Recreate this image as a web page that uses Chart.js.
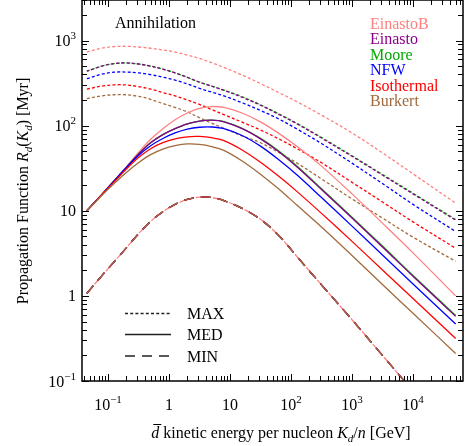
<!DOCTYPE html>
<html><head><meta charset="utf-8">
<script src="https://cdn.jsdelivr.net/npm/chart.js@4/dist/chart.umd.min.js"></script>
<style>html,body{margin:0;padding:0;background:#fff;}canvas{display:block;}</style>
</head><body>
<canvas id="c" width="475" height="446"></canvas>
<script>
// ---- data ----
const energies = [0.045, 0.079, 0.126, 0.2, 0.316, 0.5, 0.794, 1.26, 2, 3.16, 5, 7.94, 15.8, 31.6, 63.1, 126, 316, 1000, 3160, 10000, 50000];

const profiles = ['EinastoB', 'Einasto', 'Moore', 'NFW', 'Isothermal', 'Burkert'];
const profileColors = ['#ff8080', '#8b008b', '#00aa00', '#0000ff', '#ff0000', '#a26a3c'];

const maxEinastoB   = [736, 813, 851, 857, 841, 813, 776, 733, 676, 617, 550, 484, 394, 313, 245, 191, 133, 82.2, 47.9, 27.2, 12.3];
const maxEinasto    = [437, 501, 537, 546, 531, 501, 462, 417, 370, 325, 292, 260, 216, 174, 136, 105, 71.6, 43.7, 26.3, 15.8, 7.76];
const maxMoore      = [437, 501, 537, 546, 531, 501, 462, 417, 370, 325, 292, 262, 219, 176, 138, 106, 72.8, 44.4, 26.7, 16.1, 7.9];
const maxNFW        = [357, 403, 425, 427, 417, 398, 372, 343, 309, 275, 248, 224, 186, 151, 120, 91.2, 61.7, 36.3, 20.9, 11.9, 5.71];
const maxIsothermal = [269, 292, 302, 301, 288, 269, 245, 224, 200, 178, 155, 135, 110, 89.1, 70.0, 53.7, 36.7, 21.6, 12.7, 7.41, 3.63];
const maxBurkert    = [208, 224, 231, 231, 221, 204, 182, 164, 145, 124, 107, 93.3, 75.9, 63.1, 48.4, 36.3, 23.7, 13.8, 8.22, 4.90, 2.55];

const medEinastoB   = [10, 15.5, 22.4, 32.7, 48.4, 69.2, 92.3, 117.5, 141, 160, 168, 164, 141, 111, 81.3, 56.9, 33.5, 15.8, 7.16, 3.2, 1.0];
const medEinasto    = [10, 15.5, 22.4, 32.4, 46.2, 63.1, 78.5, 92.3, 105, 113, 116, 111, 92.3, 70.0, 49.5, 32.7, 17.8, 8.22, 3.76, 1.70, 0.575];
const medMoore      = [10, 15.5, 22.4, 32.4, 46.2, 63.1, 78.5, 92.3, 105, 113, 116, 112, 93.3, 71.1, 50.5, 33.4, 18.2, 8.41, 3.85, 1.74, 0.589];
const medNFW        = [10, 15.5, 22.4, 32.0, 44.7, 58.2, 70.8, 82.2, 91.2, 95.9, 96.6, 92.3, 76.7, 57.5, 39.8, 26.3, 14.3, 6.61, 3.02, 1.38, 0.468];
const medIsothermal = [10, 15.5, 21.9, 30.9, 42.2, 53.7, 63.1, 70.0, 74.1, 74.8, 72.4, 66.8, 51.9, 37.2, 25.4, 16.8, 9.33, 4.37, 2.02, 0.933, 0.316];
const medBurkert    = [10, 15.1, 20.9, 28.2, 36.7, 45.7, 53.1, 58.2, 61.0, 60.3, 56.9, 51.3, 38.5, 26.9, 18.0, 11.6, 6.46, 2.99, 1.36, 0.624, 0.211];

const minAllProfiles = [1.07, 1.72, 2.51, 3.67, 5.37, 7.50, 9.77, 11.9, 13.6, 14.5, 14.3, 13.2, 10.7, 7.94, 5.13, 2.88, 1.35, 0.525, 0.2, 0.0759, 0.02];

const xTickValues = [0.1, 1, 10, 100, 1000, 10000];
const xTickLabels = [['10', '\u22121'], ['1', ''], ['10', ''], ['10', '2'], ['10', '3'], ['10', '4']];
const yTickValues = [0.1, 1, 10, 100, 1000];
const yTickLabels = [['10', '\u22121'], ['1', ''], ['10', ''], ['10', '2'], ['10', '3']];

const styleNames = ['MAX', 'MED', 'MIN'];
const panelLabel = 'Annihilation';

// ---- build datasets ----
const maxSets = [maxEinastoB, maxEinasto, maxMoore, maxNFW, maxIsothermal, maxBurkert];
const medSets = [medEinastoB, medEinasto, medMoore, medNFW, medIsothermal, medBurkert];
const DASH_MAX = [3, 2.2];
const DASH_MIN = [10, 7];

function pts(arr) { return energies.map((e, i) => ({ x: e, y: arr[i] })); }
function ds(arr, color, dash, off) {
  return {
    data: pts(arr), borderColor: color, borderWidth: 1.3, borderDash: dash,
    borderDashOffset: off || 0, pointRadius: 0, fill: false, tension: 0.35
  };
}
// bottom-first drawing order: Moore before Einasto
const drawOrder = [0, 2, 1, 3, 4, 5];
let bottomFirst = [];
drawOrder.forEach(i => bottomFirst.push(ds(maxSets[i], profileColors[i], DASH_MAX, i === 1 ? 1.0 : 0)));
drawOrder.forEach(i => bottomFirst.push(ds(medSets[i], profileColors[i], [])));
drawOrder.forEach(i => bottomFirst.push(ds(minAllProfiles, profileColors[i], DASH_MIN, i === 0 ? 5 : 0)));
const datasets = bottomFirst.reverse(); // Chart.js draws the first dataset on top

// ---- drawing helpers ----
const SERIF = '"Liberation Serif","Times New Roman",serif';
function fnt(size, it) { return (it ? 'italic ' : '') + size + 'px ' + SERIF; }

function drawRich(ctx, parts, x, y, align) {
  let w = 0;
  parts.forEach(p => {
    ctx.font = fnt(p.sub || p.sup ? 11 : 16, p.it);
    p.w = ctx.measureText(p.t).width; w += p.w;
  });
  let cx = align === 'center' ? x - w / 2 : (align === 'right' ? x - w : x);
  parts.forEach(p => {
    ctx.font = fnt(p.sub || p.sup ? 11 : 16, p.it);
    const dy = p.sub ? 4 : (p.sup ? -7 : 0);
    ctx.fillText(p.t, cx, y + dy);
    if (p.over) {
      ctx.save(); ctx.lineWidth = 1; ctx.strokeStyle = ctx.fillStyle;
      ctx.beginPath(); ctx.moveTo(cx + 2, y - 13.5); ctx.lineTo(cx + p.w + 2, y - 13.5); ctx.stroke();
      ctx.restore();
    }
    cx += p.w;
  });
}
function labelParts(l) {
  const parts = [{ t: l[0] }];
  if (l[1]) parts.push({ t: l[1], sup: true });
  return parts;
}

const decor = {
  id: 'decor',
  afterDraw(chart) {
    const ctx = chart.ctx, a = chart.chartArea, xs = chart.scales.x, ys = chart.scales.y;
    ctx.save();
    ctx.textAlign = 'left'; ctx.textBaseline = 'alphabetic';
    // inward ticks on all sides
    ctx.strokeStyle = '#000'; ctx.lineWidth = 1;
    ctx.beginPath();
    for (let d = -2; d <= 5; d++) {
      for (let m = 1; m <= 9; m++) {
        const v = m * Math.pow(10, d);
        const len = m === 1 ? 7 : 5;
        if (v >= xs.min && v <= xs.max) {
          const px = Math.round(xs.getPixelForValue(v)) + 0.5;
          ctx.moveTo(px, a.bottom); ctx.lineTo(px, a.bottom - len);
          ctx.moveTo(px, a.top); ctx.lineTo(px, a.top + len);
        }
        if (v >= ys.min && v <= ys.max) {
          const py = Math.round(ys.getPixelForValue(v)) + 0.5;
          ctx.moveTo(a.left, py); ctx.lineTo(a.left + len, py);
          ctx.moveTo(a.right, py); ctx.lineTo(a.right - len, py);
        }
      }
    }
    ctx.stroke();
    ctx.lineWidth = 1.5;
    ctx.strokeRect(a.left, a.top, a.right - a.left, a.bottom - a.top);

    // tick labels
    ctx.fillStyle = '#000';
    xTickValues.forEach((v, i) => {
      drawRich(ctx, labelParts(xTickLabels[i]), xs.getPixelForValue(v), 409.5, 'center');
    });
    yTickValues.forEach((v, i) => {
      drawRich(ctx, labelParts(yTickLabels[i]), 76, ys.getPixelForValue(v) + 5.5, 'right');
    });

    // axis titles
    drawRich(ctx, [
      { t: 'd', it: true, over: true }, { t: ' kinetic energy per nucleon ' },
      { t: 'K', it: true }, { t: 'd', it: true, sub: true }, { t: '/' }, { t: 'n', it: true }, { t: ' [GeV]' }
    ], 281, 438, 'center');
    ctx.save();
    ctx.translate(28, 191); ctx.rotate(-Math.PI / 2);
    drawRich(ctx, [
      { t: 'Propagation Function ' }, { t: 'R', it: true }, { t: 'd', it: true, sub: true },
      { t: '(' }, { t: 'K', it: true }, { t: 'd', it: true, sub: true }, { t: ') [Myr]' }
    ], 0, 0, 'center');
    ctx.restore();

    // panel label
    ctx.font = fnt(16); ctx.fillStyle = '#000';
    ctx.fillText(panelLabel, 115, 27.5);

    // colour legend (text only)
    profiles.forEach((p, i) => {
      ctx.fillStyle = profileColors[i];
      ctx.fillText(p, 370, 28.5 + i * 15.5);
    });

    // line-style legend
    const dashes = [DASH_MAX, [], DASH_MIN];
    const ly = [313.5, 334.5, 356];
    styleNames.forEach((s, i) => {
      ctx.save();
      ctx.strokeStyle = '#222'; ctx.lineWidth = 1.3; ctx.setLineDash(dashes[i]);
      ctx.beginPath(); ctx.moveTo(125, ly[i]); ctx.lineTo(171, ly[i]); ctx.stroke();
      ctx.restore();
      ctx.fillStyle = '#000'; ctx.font = fnt(16);
      ctx.fillText(s, 187, ly[i] + 5.5);
    });
    ctx.restore();
  }
};

new Chart(document.getElementById('c'), {
  type: 'line',
  data: { datasets: datasets },
  options: {
    responsive: false, animation: false, devicePixelRatio: 1,
    layout: { padding: { left: 0, right: 12, top: 0, bottom: 0 } },
    plugins: { legend: { display: false }, tooltip: { enabled: false } },
    scales: {
      x: {
        type: 'logarithmic', min: 0.0375, max: 66000,
        grid: { display: false }, border: { display: false }, ticks: { display: false },
        afterFit(s) { s.height = 65; }
      },
      y: {
        type: 'logarithmic', min: 0.1, max: 3000,
        grid: { display: false }, border: { display: false }, ticks: { display: false },
        afterFit(s) { s.width = 82; }
      }
    }
  },
  plugins: [decor]
});
</script>
</body></html>
